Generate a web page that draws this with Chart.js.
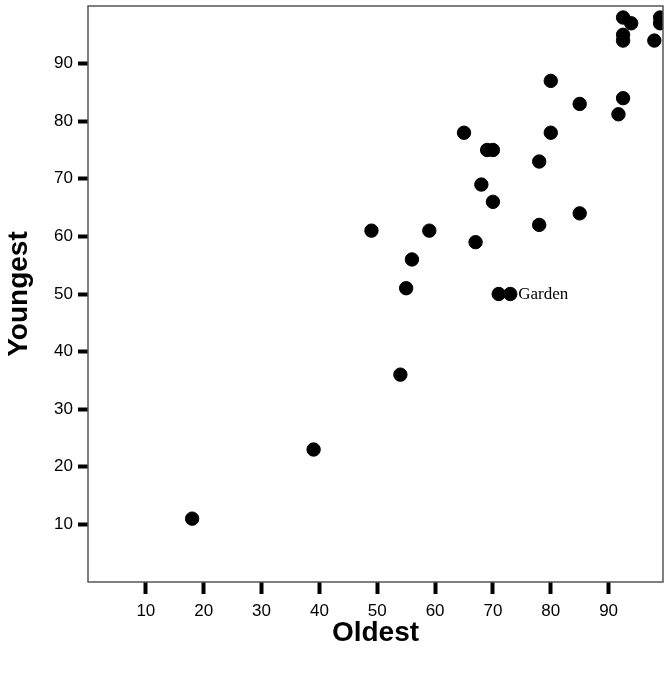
<!DOCTYPE html>
<html>
<head>
<meta charset="utf-8">
<script src="https://cdn.jsdelivr.net/npm/chart.js@4.4.0/dist/chart.umd.min.js"></script>
<style>
  html, body { margin: 0; padding: 0; background: #fff; }
  #wrap { width: 668px; height: 675px; }
</style>
</head>
<body>
<div id="wrap"><canvas id="chart" width="668" height="675"></canvas></div>
<script>
// Oldest vs Youngest, one point per case
const oldest = [18, 39, 49, 54, 55, 56, 59, 65, 67, 68, 69, 70, 70, 71, 73,
  78, 78, 80, 80, 85, 85, 91.7, 92.5, 92.5, 92.5, 92.5, 93.9, 97.9, 98.9, 98.9];
const youngest = [11, 23, 61, 36, 51, 56, 61, 78, 59, 69, 75, 75, 66, 50, 50,
  73, 62, 87, 78, 83, 64, 81.2, 84, 98, 95, 94, 97, 94, 98, 97];
const tickValues = [10, 20, 30, 40, 50, 60, 70, 80, 90];
const labelIndex = 14;
const labelText = 'Garden';

const points = oldest.map((x, i) => ({ x: x, y: youngest[i] }));

// frame around plot area + point label
const framePlugin = {
  id: 'frame',
  afterDraw(chart) {
    const ctx = chart.ctx;
    const a = chart.chartArea;
    ctx.save();
    ctx.strokeStyle = '#555';
    ctx.lineWidth = 1.5;
    ctx.strokeRect(a.left, a.top, a.right - a.left, a.bottom - a.top);
    const p = chart.getDatasetMeta(0).data[labelIndex];
    ctx.fillStyle = '#000';
    ctx.font = '17px "Liberation Serif", "Times New Roman", serif';
    ctx.textBaseline = 'middle';
    ctx.fillText(labelText, p.x + 8, p.y + 1);
    ctx.restore();
  }
};

const sans = '"Liberation Sans", Arial, sans-serif';

new Chart(document.getElementById('chart'), {
  type: 'scatter',
  data: {
    datasets: [{
      data: points,
      backgroundColor: '#000',
      borderColor: '#000',
      pointRadius: 6.7,
      pointHoverRadius: 6.7
    }]
  },
  options: {
    responsive: false,
    animation: false,
    layout: { autoPadding: false, padding: { top: 6, right: 5, left: 0, bottom: 0 } },
    plugins: { legend: { display: false }, tooltip: { enabled: false } },
    scales: {
      x: {
        type: 'linear',
        min: 0,
        max: 99.4,
        afterBuildTicks: s => { s.ticks = tickValues.map(v => ({ value: v })); },
        afterFit: s => { s.height = 93; s.paddingLeft = 0; s.paddingRight = 0; },
        grid: { drawOnChartArea: false, drawTicks: true, tickLength: 12, tickWidth: 4, tickColor: '#000' },
        border: { display: false },
        ticks: { color: '#000', padding: 7, maxRotation: 0, font: { family: sans, size: 17 } },
        title: { display: true, text: 'Oldest', color: '#000', padding: { top: 4, bottom: 25 }, font: { family: sans, size: 28, weight: 'bold' } }
      },
      y: {
        type: 'linear',
        min: 0,
        max: 100,
        afterBuildTicks: s => { s.ticks = tickValues.map(v => ({ value: v })); },
        afterFit: s => { s.width = 88; s.paddingTop = 0; s.paddingBottom = 0; },
        grid: { drawOnChartArea: false, drawTicks: true, tickLength: 10, tickWidth: 4, tickColor: '#000' },
        border: { display: false },
        ticks: { color: '#000', padding: 5, font: { family: sans, size: 17 } },
        title: { display: true, text: 'Youngest', color: '#000', padding: { top: 2, bottom: 0 }, font: { family: sans, size: 28, weight: 'bold' } }
      }
    }
  },
  plugins: [framePlugin]
});
</script>
</body>
</html>
